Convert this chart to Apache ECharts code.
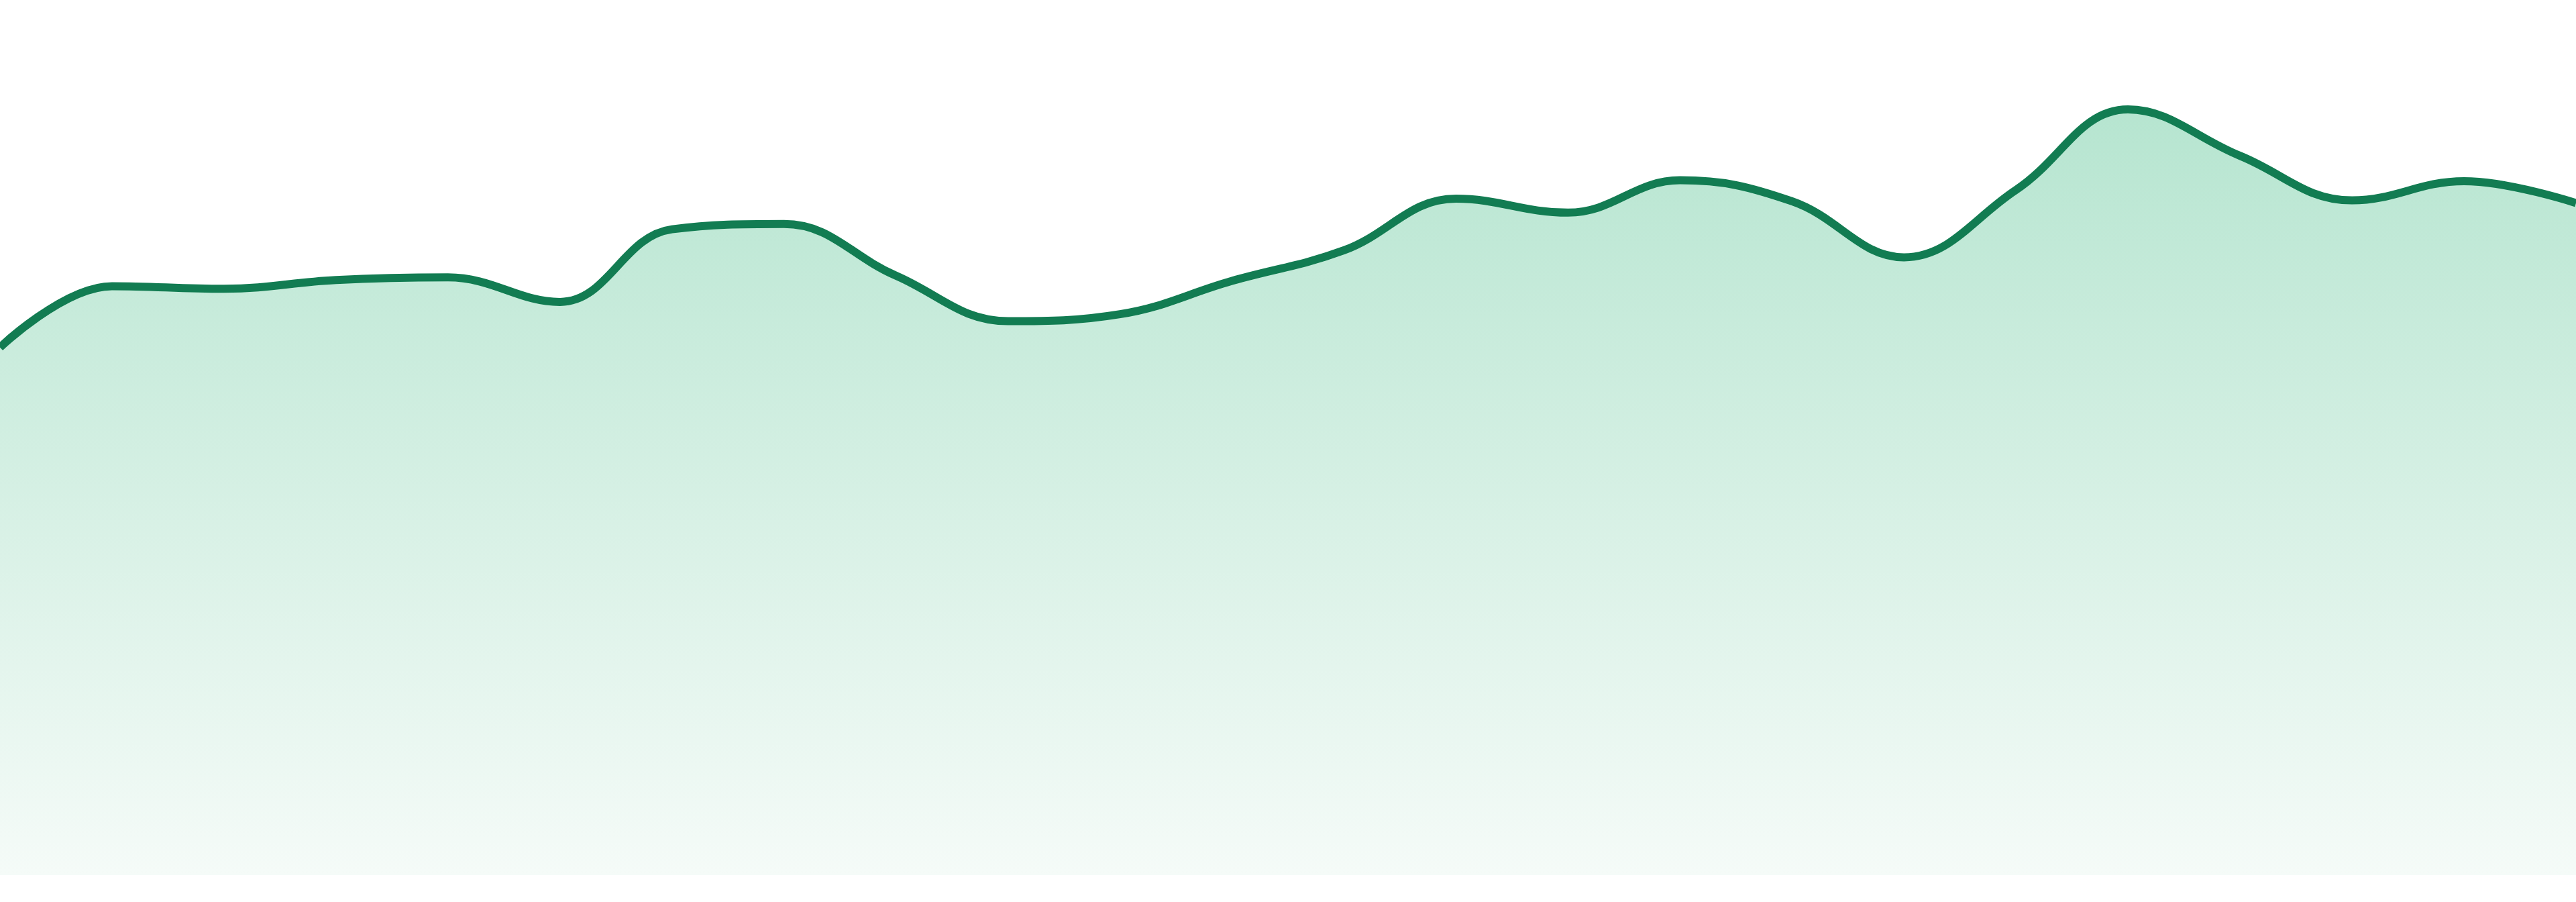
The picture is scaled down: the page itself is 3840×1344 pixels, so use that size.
<!DOCTYPE html>
<html>
<head>
<meta charset="utf-8">
<script src="https://cdn.jsdelivr.net/npm/echarts@6/dist/echarts.min.js"></script>
<style>
html,body{margin:0;padding:0;background:#ffffff;}
#chart{width:3840px;height:1344px;}
</style>
</head>
<body>
<div id="chart"></div>
<script>
const categories = ['1','2','3','4','5','6','7','8','9','10','11','12','13','14','15','16','17','18','19','20','21','22','23','24'];
const values = [60.3, 67.3, 67.0, 68.0, 68.3, 65.5, 73.8, 74.4, 68.5, 63.3, 64.1, 67.9, 71.4, 77.3, 75.7, 79.4, 77.0, 70.6, 78.3, 87.5, 82.2, 77.1, 79.3, 76.8];

const chart = echarts.init(document.getElementById('chart'));
chart.setOption({
  animation: false,
  grid: { left: 0, right: 0, top: 0, bottom: 40 },
  xAxis: {
    type: 'category',
    data: categories,
    boundaryGap: false,
    show: false
  },
  yAxis: {
    type: 'value',
    min: 0,
    max: 100,
    show: false
  },
  series: [{
    type: 'line',
    data: values,
    smooth: 0.4,
    symbol: 'none',
    lineStyle: { color: '#127c52', width: 12 },
    itemStyle: { color: '#127c52' },
    areaStyle: {
      opacity: 1,
      color: new echarts.graphic.LinearGradient(0, 0, 0, 1, [
        { offset: 0, color: '#b6e5d0' },
        { offset: 1, color: '#f5fbf8' }
      ])
    }
  }]
});
</script>
</body>
</html>
